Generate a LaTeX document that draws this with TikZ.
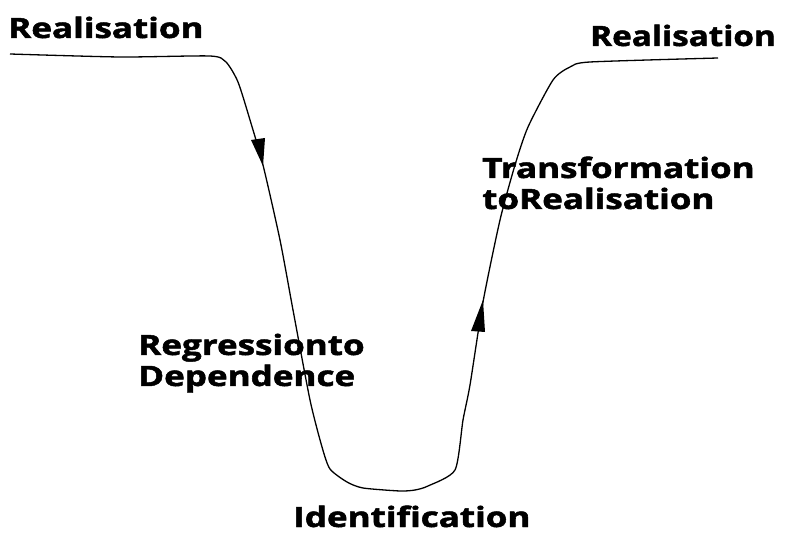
\documentclass[tikz,border=0pt]{standalone}
\usepackage{fontspec}
\setmainfont{Open Sans}[BoldFeatures={FakeBold=1.6}]
\begin{document}
\begin{tikzpicture}[x=1pt,y=-1pt,
  lbl/.style={font=\fontsize{28}{25}\selectfont\bfseries, inner sep=0pt, align=left, anchor=base west, xscale=1.25, transform shape},
  curve/.style={line width=1.3pt, line join=round},
  tip/.style={fill=black}]
\useasboundingbox (0,0) rectangle (787,534);
\draw[curve] plot[smooth, tension=0.4] coordinates {(10,54) (120,57) (210,56) (226,62) (238,82) (250,120) (263,165) (280,240) (293,310) (310,400) (322,447) (330,469) (347,482) (363,488) (400,491) (415,490) (428,486) (455,470) (463,420) (470,385) (483,302) (500,220) (515,165) (528,127) (553,80) (570,67) (590,62) (718,58)};
\fill[tip] (251,140) -- (265,138) -- (263,166) -- cycle;
\fill[tip] (471,331) -- (485,332) -- (483,300) -- cycle;
\node[lbl] (r1) at (8,38) {Realisation};
\node[lbl, xscale=0.95] (r2) at (590,46) {Realisation};
\node[lbl] (t1) at (482,178) {Transformation};
\node[lbl] (t2) at (482,209) {toRealisation};
\node[lbl] (g1) at (138,355) {Regressionto};
\node[lbl] (g2) at (138,386) {Dependence};
\node[lbl] (id) at (293,527) {Identification};
\end{tikzpicture}
\end{document}
